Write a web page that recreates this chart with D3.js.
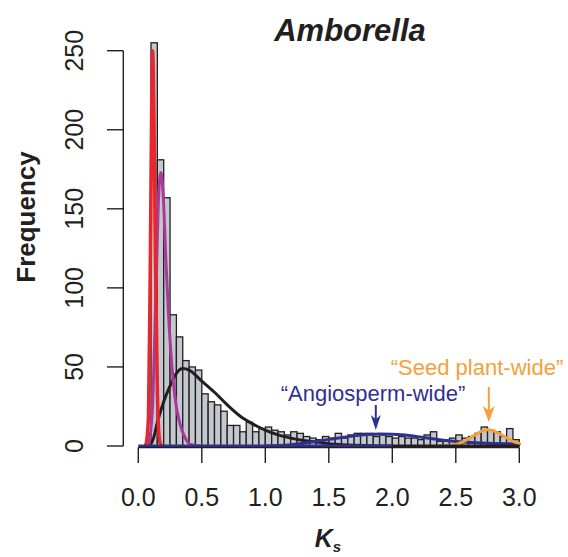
<!DOCTYPE html>
<html lang="en">
<head>
    <meta charset="UTF-8">
    <title>Amborella Ks</title>
    <script src="https://cdn.jsdelivr.net/npm/d3@7"></script>
    <style>
        body { margin: 0; background: #fff; }
        svg { width: 568px; height: 557px; display: block; }
        text { font-family: "Liberation Sans", Arial, sans-serif; fill: #231f20; }
        .bar { fill: #c3c7ce; stroke: #231f20; stroke-width: 1.3px; }
        .axis { stroke: #231f20; stroke-width: 1.4px; fill: none; }
        .curve { fill: none; stroke-width: 3px; stroke-linejoin: round; stroke-linecap: round; }
    </style>
</head>
<body>
<svg></svg>

<script>

    // histogram: Ks bins of width 0.05 from 0 to 3
    var binWidth = 0.05;
    var counts = [0, 1, 255, 181, 157, 83, 69, 54, 50, 48,
                  33, 28, 26, 22, 13, 13, 9, 15, 9, 11,
                  12, 10, 9, 7, 9, 8, 6, 5, 4, 6,
                  5, 8, 5, 7, 8, 8, 8, 6, 7, 6,
                  5, 6, 5, 5, 4, 7, 9, 3, 3, 5,
                  7, 5, 6, 8, 12, 10, 9, 6, 11, 4];

    var xTicks = [0, 0.5, 1, 1.5, 2, 2.5, 3];
    var yTicks = [0, 50, 100, 150, 200, 250];

    // fitted components, points [Ks, frequency]
    var redCurve = [[0.06, 0], [0.08, 18], [0.095, 120], [0.105, 212], [0.113, 250],
                    [0.122, 215], [0.135, 118], [0.15, 35], [0.165, 5], [0.18, 0]];
    var purpleCurve = [[0.08, 0], [0.11, 22], [0.14, 100], [0.16, 158], [0.178, 173],
                       [0.195, 160], [0.218, 116], [0.24, 80], [0.263, 52], [0.29, 30],
                       [0.328, 14], [0.37, 5], [0.41, 1], [0.48, 0]];
    var blackCurve = [[0.09, 0], [0.12, 5], [0.15, 15], [0.2, 28], [0.25, 38], [0.3, 46],
                      [0.35, 49], [0.4, 48], [0.5, 41], [0.6, 34], [0.7, 26], [0.8, 19],
                      [0.9, 14], [1.0, 10], [1.1, 7], [1.2, 5], [1.3, 3.5], [1.4, 2.5],
                      [1.5, 1.5], [1.7, 0.5], [2.0, 0]];
    var blueCurve = [[1.0, 0], [1.1, 0.3], [1.2, 0.8], [1.3, 1.7], [1.4, 2.9], [1.5, 4.1],
                     [1.6, 5.3], [1.7, 6.4], [1.8, 7.2], [1.9, 7.6], [2.0, 7.5], [2.1, 6.9],
                     [2.2, 5.9], [2.3, 4.8], [2.4, 3.7], [2.5, 2.9], [2.6, 2.3], [2.7, 1.9],
                     [2.8, 1.6], [2.9, 1.4], [3.0, 1.3]];
    var orangeCurve = [[2.4, 0], [2.5, 1], [2.55, 2.5], [2.6, 4.5], [2.65, 7], [2.7, 9.3],
                       [2.75, 10.3], [2.8, 9.5], [2.85, 7.5], [2.9, 5.2], [2.95, 3], [3.0, 1.6]];

    var blue = '#2e3192';
    var orange = '#f6a03d';

    var svg = d3.select('svg');

    var x = d3.scaleLinear().domain([0, 3]).range([138.3, 519.3]);
    var y = d3.scaleLinear().domain([0, 250]).range([446, 50.7]);

    // bars
    svg.append('g').selectAll('rect')
        .data(counts)
        .enter()
        .append('rect')
        .attr('class', 'bar')
        .attr('x', function (d, i) { return x(i * binWidth); })
        .attr('width', x(binWidth) - x(0))
        .attr('y', function (d) { return y(d); })
        .attr('height', function (d) { return y(0) - y(d); })
        .style('display', function (d) { return d > 0 ? null : 'none'; });

    // curves
    var line = d3.line()
        .x(function (d) { return x(d[0]); })
        .y(function (d) { return y(d[1]); })
        .curve(d3.curveMonotoneX);

    function drawCurve(pts, color, w) {
        svg.append('path')
            .attr('class', 'curve')
            .attr('d', line(pts))
            .style('stroke', color)
            .style('stroke-width', w + 'px');
    }

    drawCurve(blackCurve, '#231f20', 3);
    drawCurve(purpleCurve, '#a93a9c', 3);
    drawCurve(redCurve, '#e8262b', 3.5);
    drawCurve(blueCurve, blue, 3);
    drawCurve(orangeCurve, orange, 3);

    // baseline under the bars
    svg.append('line')
        .attr('x1', x(0)).attr('x2', x(2))
        .attr('y1', y(0)).attr('y2', y(0))
        .style('stroke', blue).style('stroke-width', '3px');
    svg.append('line')
        .attr('x1', x(2)).attr('x2', x(3))
        .attr('y1', y(0)).attr('y2', y(0))
        .style('stroke', '#231f20').style('stroke-width', '3px');

    // x axis
    var gx = svg.append('g');
    gx.append('line').attr('class', 'axis')
        .attr('x1', x(0)).attr('x2', x(3))
        .attr('y1', 447.5).attr('y2', 447.5);
    gx.selectAll('.xt')
        .data(xTicks)
        .enter()
        .append('line')
        .attr('class', 'axis')
        .attr('x1', function (d) { return x(d); })
        .attr('x2', function (d) { return x(d); })
        .attr('y1', 447.5).attr('y2', 463);
    gx.selectAll('.xl')
        .data(xTicks)
        .enter()
        .append('text')
        .attr('x', function (d) { return x(d); })
        .attr('y', 506)
        .attr('text-anchor', 'middle')
        .style('font-size', '25px')
        .text(function (d) { return d3.format('.1f')(d); });

    // y axis
    var gy = svg.append('g');
    gy.append('line').attr('class', 'axis')
        .attr('x1', 123.3).attr('x2', 123.3)
        .attr('y1', y(0)).attr('y2', y(250));
    gy.selectAll('.yt')
        .data(yTicks)
        .enter()
        .append('line')
        .attr('class', 'axis')
        .attr('x1', 107).attr('x2', 123.3)
        .attr('y1', function (d) { return y(d); })
        .attr('y2', function (d) { return y(d); });
    gy.selectAll('.yl')
        .data(yTicks)
        .enter()
        .append('text')
        .attr('transform', function (d) { return 'translate(83,' + y(d) + ') rotate(-90)'; })
        .attr('text-anchor', 'middle')
        .style('font-size', '25px')
        .text(function (d) { return d; });

    // titles
    svg.append('text')
        .attr('x', 350).attr('y', 41)
        .attr('text-anchor', 'middle')
        .style('font-size', '31px')
        .style('font-weight', 'bold')
        .style('font-style', 'italic')
        .text('Amborella');

    svg.append('text')
        .attr('transform', 'translate(35,217) rotate(-90)')
        .attr('text-anchor', 'middle')
        .style('font-size', '26px')
        .style('font-weight', 'bold')
        .text('Frequency');

    var ks = svg.append('text')
        .attr('x', 328).attr('y', 547)
        .attr('text-anchor', 'middle')
        .style('font-size', '25px')
        .style('font-weight', 'bold')
        .style('font-style', 'italic');
    ks.append('tspan').text('K');
    ks.append('tspan').attr('dy', 5).style('font-size', '15px').text('s');

    // annotations
    function arrow(xv, y1, y2, color, hw, hl) {
        var px = x(xv);
        svg.append('line')
            .attr('x1', px).attr('x2', px)
            .attr('y1', y1).attr('y2', y2 - hl * 0.6)
            .style('stroke', color).style('stroke-width', '2px');
        svg.append('path')
            .attr('d', 'M' + px + ',' + y2 +
                'L' + (px - hw / 2) + ',' + (y2 - hl) +
                'L' + px + ',' + (y2 - hl * 0.72) +
                'L' + (px + hw / 2) + ',' + (y2 - hl) + 'Z')
            .style('fill', color);
    }

    svg.append('text')
        .attr('x', 373).attr('y', 401)
        .attr('text-anchor', 'middle')
        .style('font-size', '22px')
        .style('fill', blue)
        .text('\u201cAngiosperm-wide\u201d');
    arrow(1.87, 405, 430, blue, 10, 15);

    svg.append('text')
        .attr('x', 477).attr('y', 375)
        .attr('text-anchor', 'middle')
        .style('font-size', '22px')
        .style('fill', orange)
        .text('\u201cSeed plant-wide\u201d');
    arrow(2.76, 387, 422, orange, 12, 16);

</script>

</body>
</html>
